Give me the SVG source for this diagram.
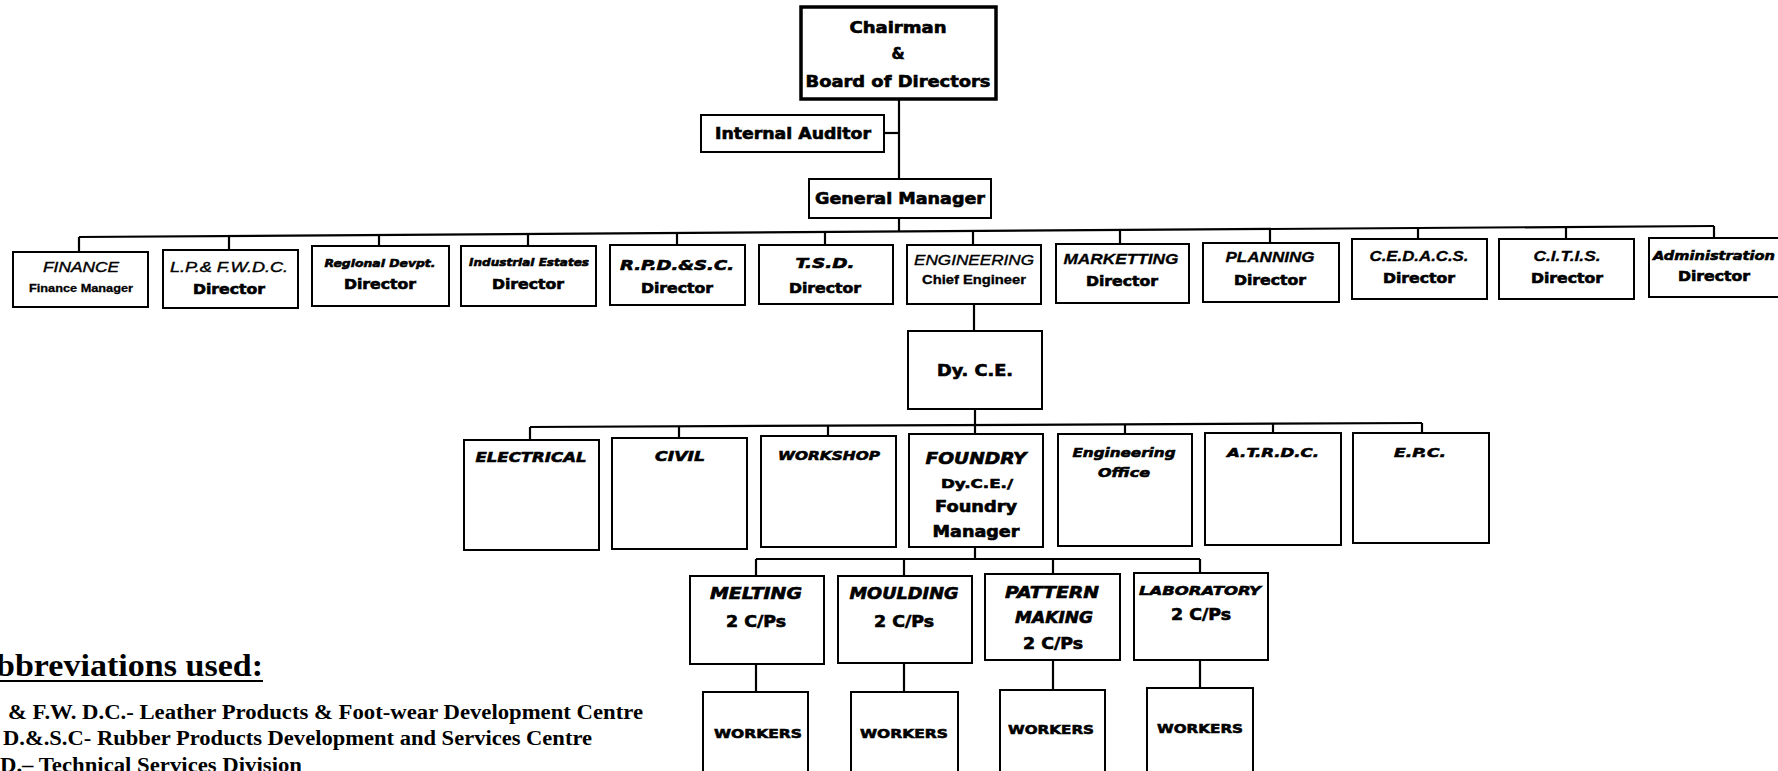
<svg xmlns="http://www.w3.org/2000/svg" width="1778" height="771" viewBox="0 0 1778 771">
<style>
.box{fill:#fff;stroke:#000;stroke-width:2}
.thick{stroke-width:3.5}
.c{stroke:#000;stroke-width:2.2;fill:none}
text{text-anchor:middle;fill:#000}
.h{font-family:"DejaVu Sans",sans-serif;font-weight:bold;stroke:#000;stroke-width:0.6}
.hi{font-family:"DejaVu Sans",sans-serif;font-weight:bold;font-style:italic;stroke:#000;stroke-width:0.6}
.ai{font-family:"Liberation Sans",Arial,sans-serif;font-style:italic;font-weight:bold;stroke:#000;stroke-width:0.3}
.an{font-family:"Liberation Sans",Arial,sans-serif;font-style:italic;font-weight:normal;stroke:#000;stroke-width:0.4}
.ab{font-family:"Liberation Sans",Arial,sans-serif;font-weight:bold;stroke:#000;stroke-width:0.3}
.s{font-family:"Liberation Serif","Times New Roman",serif;font-weight:bold;text-anchor:start}
</style>
<rect width="1778" height="771" fill="#fff"/>
<g id="connectors">
<line class="c" x1="899" y1="99" x2="899" y2="179"/>
<line class="c" x1="884" y1="133" x2="899" y2="133"/>
<line class="c" x1="899" y1="218" x2="899" y2="232"/>
<line class="c" x1="79" y1="237" x2="1714" y2="226"/>
<line class="c" x1="79" y1="237" x2="79" y2="252"/>
<line class="c" x1="229" y1="236" x2="229" y2="250"/>
<line class="c" x1="379" y1="235" x2="379" y2="246"/>
<line class="c" x1="528" y1="234" x2="528" y2="246"/>
<line class="c" x1="677" y1="233" x2="677" y2="245"/>
<line class="c" x1="825" y1="232" x2="825" y2="245"/>
<line class="c" x1="973" y1="231" x2="973" y2="245"/>
<line class="c" x1="1120" y1="230" x2="1120" y2="244"/>
<line class="c" x1="1270" y1="229" x2="1270" y2="243"/>
<line class="c" x1="1418" y1="228" x2="1418" y2="239"/>
<line class="c" x1="1566" y1="227" x2="1566" y2="239"/>
<line class="c" x1="1714" y1="226" x2="1714" y2="238"/>
<line class="c" x1="974" y1="304" x2="974" y2="331"/>
<line class="c" x1="975" y1="409" x2="975" y2="425"/>
<line class="c" x1="530" y1="427" x2="1422" y2="423"/>
<line class="c" x1="530" y1="427" x2="530" y2="440"/>
<line class="c" x1="679" y1="426.3" x2="679" y2="438"/>
<line class="c" x1="828" y1="425.7" x2="828" y2="436"/>
<line class="c" x1="975" y1="425" x2="975" y2="434"/>
<line class="c" x1="1125" y1="424.3" x2="1125" y2="434"/>
<line class="c" x1="1273" y1="423.7" x2="1273" y2="433"/>
<line class="c" x1="1422" y1="423" x2="1422" y2="433"/>
<line class="c" x1="975" y1="547" x2="975" y2="559"/>
<line class="c" x1="756" y1="559" x2="1200" y2="559"/>
<line class="c" x1="756" y1="559" x2="756" y2="576"/>
<line class="c" x1="904" y1="559" x2="904" y2="576"/>
<line class="c" x1="1053" y1="559" x2="1053" y2="574"/>
<line class="c" x1="1200" y1="559" x2="1200" y2="573"/>
<line class="c" x1="756" y1="664" x2="756" y2="692"/>
<line class="c" x1="904" y1="663" x2="904" y2="692"/>
<line class="c" x1="1053" y1="660" x2="1053" y2="690"/>
<line class="c" x1="1200" y1="660" x2="1200" y2="688"/>
</g>
<g id="chairman">
<rect class="box thick" x="801" y="7" width="195" height="92"/>
<text class="h" x="898" y="33" font-size="15" textLength="97" lengthAdjust="spacingAndGlyphs">Chairman</text>
<text class="h" x="898" y="59" font-size="15">&amp;</text>
<text class="h" x="898" y="87" font-size="16" textLength="185" lengthAdjust="spacingAndGlyphs">Board of Directors</text>
</g>
<g id="auditor">
<rect class="box" x="701" y="115" width="183" height="37"/>
<text class="h" x="793" y="139" font-size="15" textLength="156" lengthAdjust="spacingAndGlyphs">Internal Auditor</text>
</g>
<g id="gm">
<rect class="box" x="809" y="179" width="182" height="39"/>
<text class="h" x="900" y="204" font-size="15" textLength="170" lengthAdjust="spacingAndGlyphs">General Manager</text>
</g>
<g id="finance">
<rect class="box" x="13" y="252" width="135" height="55"/>
<text class="an" x="81" y="272" font-size="15" textLength="76" lengthAdjust="spacingAndGlyphs">FINANCE</text>
<text class="ab" x="81" y="292" font-size="11" textLength="104" lengthAdjust="spacingAndGlyphs">Finance Manager</text>
</g>
<g id="lpfwdc">
<rect class="box" x="163" y="250" width="135" height="58"/>
<text class="an" x="229" y="272" font-size="15" textLength="118" lengthAdjust="spacingAndGlyphs">L.P.&amp; F.W.D.C.</text>
<text class="h" x="229" y="294" font-size="13.5" textLength="72" lengthAdjust="spacingAndGlyphs">Director</text>
</g>
<g id="regional">
<rect class="box" x="312" y="246" width="137" height="60"/>
<text class="hi" x="380" y="267" font-size="11" textLength="111" lengthAdjust="spacingAndGlyphs">Regional Devpt.</text>
<text class="h" x="380" y="289" font-size="13.5" textLength="72" lengthAdjust="spacingAndGlyphs">Director</text>
</g>
<g id="industrial">
<rect class="box" x="461" y="246" width="135" height="60"/>
<text class="hi" x="529" y="266" font-size="11" textLength="120" lengthAdjust="spacingAndGlyphs">Industrial Estates</text>
<text class="h" x="528" y="289" font-size="13.5" textLength="72" lengthAdjust="spacingAndGlyphs">Director</text>
</g>
<g id="rpdsc">
<rect class="box" x="610" y="245" width="135" height="60"/>
<text class="hi" x="677" y="270" font-size="14" textLength="114" lengthAdjust="spacingAndGlyphs">R.P.D.&amp;S.C.</text>
<text class="h" x="677" y="293" font-size="13.5" textLength="72" lengthAdjust="spacingAndGlyphs">Director</text>
</g>
<g id="tsd">
<rect class="box" x="759" y="245" width="134" height="59"/>
<text class="hi" x="825" y="268" font-size="14" textLength="59" lengthAdjust="spacingAndGlyphs">T.S.D.</text>
<text class="h" x="825" y="293" font-size="13.5" textLength="72" lengthAdjust="spacingAndGlyphs">Director</text>
</g>
<g id="engineering">
<rect class="box" x="907" y="245" width="134" height="59"/>
<text class="an" x="974" y="265" font-size="15" textLength="120" lengthAdjust="spacingAndGlyphs">ENGINEERING</text>
<text class="ab" x="974" y="284" font-size="12" textLength="104" lengthAdjust="spacingAndGlyphs">Chief Engineer</text>
</g>
<g id="marketting">
<rect class="box" x="1056" y="244" width="133" height="59"/>
<text class="ai" x="1121" y="264" font-size="15" textLength="115" lengthAdjust="spacingAndGlyphs">MARKETTING</text>
<text class="h" x="1122" y="286" font-size="13.5" textLength="72" lengthAdjust="spacingAndGlyphs">Director</text>
</g>
<g id="planning">
<rect class="box" x="1203" y="243" width="136" height="59"/>
<text class="ai" x="1270" y="262" font-size="15" textLength="89" lengthAdjust="spacingAndGlyphs">PLANNING</text>
<text class="h" x="1270" y="285" font-size="13.5" textLength="72" lengthAdjust="spacingAndGlyphs">Director</text>
</g>
<g id="cedacs">
<rect class="box" x="1352" y="239" width="135" height="60"/>
<text class="ai" x="1419" y="261" font-size="15" textLength="99" lengthAdjust="spacingAndGlyphs">C.E.D.A.C.S.</text>
<text class="h" x="1419" y="283" font-size="13.5" textLength="72" lengthAdjust="spacingAndGlyphs">Director</text>
</g>
<g id="citis">
<rect class="box" x="1499" y="239" width="135" height="60"/>
<text class="ai" x="1567" y="261" font-size="15" textLength="67" lengthAdjust="spacingAndGlyphs">C.I.T.I.S.</text>
<text class="h" x="1567" y="283" font-size="13.5" textLength="72" lengthAdjust="spacingAndGlyphs">Director</text>
</g>
<g id="administration">
<rect class="box" x="1649" y="238" width="135" height="59"/>
<text class="hi" x="1714" y="260" font-size="13" textLength="122" lengthAdjust="spacingAndGlyphs">Administration</text>
<text class="h" x="1714" y="281" font-size="13.5" textLength="72" lengthAdjust="spacingAndGlyphs">Director</text>
</g>
<g id="dyce">
<rect class="box" x="908" y="331" width="134" height="78"/>
<text class="h" x="975" y="376" font-size="15" textLength="76" lengthAdjust="spacingAndGlyphs">Dy. C.E.</text>
</g>
<g id="electrical">
<rect class="box" x="464" y="440" width="135" height="110"/>
<text class="hi" x="531" y="462" font-size="14" textLength="111" lengthAdjust="spacingAndGlyphs">ELECTRICAL</text>
</g>
<g id="civil">
<rect class="box" x="612" y="438" width="135" height="111"/>
<text class="hi" x="680" y="461" font-size="14" textLength="50" lengthAdjust="spacingAndGlyphs">CIVIL</text>
</g>
<g id="workshop">
<rect class="box" x="761" y="436" width="135" height="111"/>
<text class="hi" x="829" y="460" font-size="13" textLength="102" lengthAdjust="spacingAndGlyphs">WORKSHOP</text>
</g>
<g id="foundry">
<rect class="box" x="909" y="434" width="134" height="113"/>
<text class="hi" x="976" y="464" font-size="16" textLength="101" lengthAdjust="spacingAndGlyphs">FOUNDRY</text>
<text class="h" x="977" y="488" font-size="13" textLength="72" lengthAdjust="spacingAndGlyphs">Dy.C.E./</text>
<text class="h" x="976" y="512" font-size="15" textLength="82" lengthAdjust="spacingAndGlyphs">Foundry</text>
<text class="h" x="976" y="537" font-size="15" textLength="87" lengthAdjust="spacingAndGlyphs">Manager</text>
</g>
<g id="engoffice">
<rect class="box" x="1058" y="434" width="134" height="112"/>
<text class="hi" x="1124" y="457" font-size="13" textLength="103" lengthAdjust="spacingAndGlyphs">Engineering</text>
<text class="hi" x="1124" y="477" font-size="13" textLength="52" lengthAdjust="spacingAndGlyphs">Office</text>
</g>
<g id="atrdc">
<rect class="box" x="1205" y="433" width="136" height="112"/>
<text class="hi" x="1273" y="457" font-size="13" textLength="92" lengthAdjust="spacingAndGlyphs">A.T.R.D.C.</text>
</g>
<g id="epc">
<rect class="box" x="1353" y="433" width="136" height="110"/>
<text class="hi" x="1420" y="457" font-size="13" textLength="52" lengthAdjust="spacingAndGlyphs">E.P.C.</text>
</g>
<g id="melting">
<rect class="box" x="690" y="576" width="134" height="88"/>
<text class="hi" x="756" y="599" font-size="15" textLength="92" lengthAdjust="spacingAndGlyphs">MELTING</text>
<text class="h" x="756" y="627" font-size="15" textLength="60" lengthAdjust="spacingAndGlyphs">2 C/Ps</text>
</g>
<g id="moulding">
<rect class="box" x="838" y="576" width="134" height="87"/>
<text class="hi" x="904" y="599" font-size="15" textLength="109" lengthAdjust="spacingAndGlyphs">MOULDING</text>
<text class="h" x="904" y="627" font-size="15" textLength="60" lengthAdjust="spacingAndGlyphs">2 C/Ps</text>
</g>
<g id="pattern">
<rect class="box" x="985" y="574" width="135" height="86"/>
<text class="hi" x="1052" y="598" font-size="15" textLength="94" lengthAdjust="spacingAndGlyphs">PATTERN</text>
<text class="hi" x="1054" y="623" font-size="15" textLength="78" lengthAdjust="spacingAndGlyphs">MAKING</text>
<text class="h" x="1053" y="649" font-size="15" textLength="60" lengthAdjust="spacingAndGlyphs">2 C/Ps</text>
</g>
<g id="laboratory">
<rect class="box" x="1134" y="573" width="134" height="87"/>
<text class="hi" x="1200" y="595" font-size="13" textLength="122" lengthAdjust="spacingAndGlyphs">LABORATORY</text>
<text class="h" x="1201" y="620" font-size="15" textLength="60" lengthAdjust="spacingAndGlyphs">2 C/Ps</text>
</g>
<g id="workers1">
<rect class="box" x="703" y="692" width="105" height="90"/>
<text class="h" x="758" y="738" font-size="13" textLength="88" lengthAdjust="spacingAndGlyphs">WORKERS</text>
</g>
<g id="workers2">
<rect class="box" x="851" y="692" width="107" height="90"/>
<text class="h" x="904" y="738" font-size="13" textLength="88" lengthAdjust="spacingAndGlyphs">WORKERS</text>
</g>
<g id="workers3">
<rect class="box" x="1000" y="690" width="105" height="90"/>
<text class="h" x="1051" y="734" font-size="13" textLength="86" lengthAdjust="spacingAndGlyphs">WORKERS</text>
</g>
<g id="workers4">
<rect class="box" x="1147" y="688" width="106" height="90"/>
<text class="h" x="1200" y="733" font-size="13" textLength="86" lengthAdjust="spacingAndGlyphs">WORKERS</text>
</g>
<g id="abbreviations">
<text class="s" x="-4" y="676" font-size="31" textLength="267" lengthAdjust="spacingAndGlyphs">bbreviations used:</text>
<line x1="0" y1="681" x2="263" y2="681" stroke="#000" stroke-width="2"/>
<text class="s" x="8" y="719" font-size="20" textLength="635" lengthAdjust="spacingAndGlyphs">&amp; F.W. D.C.- Leather Products &amp; Foot-wear Development Centre</text>
<text class="s" x="3" y="745" font-size="20" textLength="589" lengthAdjust="spacingAndGlyphs">D.&amp;.S.C- Rubber Products Development and Services Centre</text>
<text class="s" x="0" y="772" font-size="20" textLength="302" lengthAdjust="spacingAndGlyphs">D.– Technical Services Division</text>
</g>
</svg>
